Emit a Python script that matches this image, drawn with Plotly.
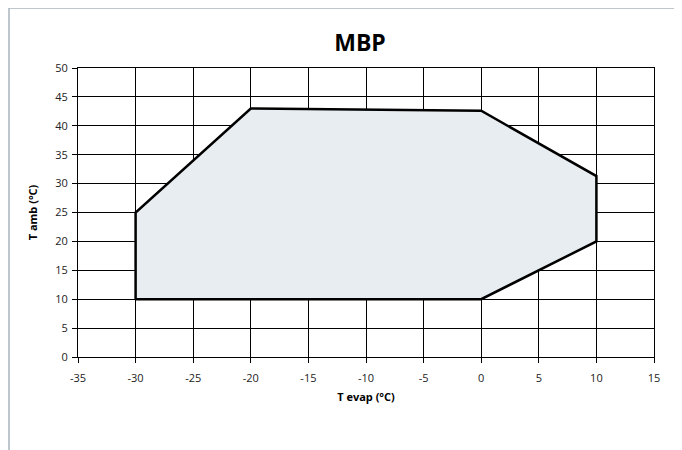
import plotly.graph_objects as go

t_evap = [-30, -30, -20, 0, 10, 10, 0, -30]
t_amb = [10, 25, 43, 42.6, 31.3, 20, 10, 10]

x_ticks = [-35, -30, -25, -20, -15, -10, -5, 0, 5, 10, 15]
y_ticks = [0, 5, 10, 15, 20, 25, 30, 35, 40, 45, 50]

W, H = 682, 450
OFF = 8  # default page body margin
L, T = 78 - OFF, 68 - OFF
R = W - (654 - OFF)
B = H - (357 - OFF)
pw, ph = W - L - R, H - T - B

fig = go.Figure()
fig.add_trace(go.Scatter(
    x=t_evap, y=t_amb, mode="lines", fill="toself",
    fillcolor="#e8edf1", line=dict(color="black", width=2.5),
    hoverinfo="skip", showlegend=False))

font = "Open Sans, DejaVu Sans, sans-serif"
fig.update_layout(
    width=W, height=H,
    margin=dict(l=L, r=R, t=T, b=B),
    paper_bgcolor="white", plot_bgcolor="white",
    title=dict(text="<b>MBP</b>", x=(360 - OFF) / W, xanchor="center",
               y=1 - (43 - OFF) / H, yanchor="middle",
               font=dict(family=font, size=23, color="black")),
    xaxis=dict(range=[-35, 15], tickvals=x_ticks, ticktext=[str(v) for v in x_ticks],
               showgrid=True, gridcolor="black", gridwidth=1,
               showline=True, linecolor="black", linewidth=1, mirror=True,
               ticks="outside", ticklen=5, tickcolor="black", zeroline=False,
               ticklabelstandoff=6,
               tickfont=dict(family=font, size=11, color="#222"),
               title=dict(text="<b>T evap (°C)</b>", standoff=9,
                          font=dict(family=font, size=11, color="black"))),
    yaxis=dict(range=[0, 50], tickvals=y_ticks, ticktext=[str(v) for v in y_ticks],
               showgrid=True, gridcolor="black", gridwidth=1,
               showline=True, linecolor="black", linewidth=1, mirror=True,
               ticks="outside", ticklen=5, tickcolor="black", zeroline=False,
               ticklabelstandoff=2,
               tickfont=dict(family=font, size=11, color="#222"),
               title=dict(text="<b>T amb (°C)</b>", standoff=15,
                          font=dict(family=font, size=11, color="black"))),
    shapes=[
        dict(type="line", xref="paper", yref="paper",
             x0=(1 - L) / pw, x1=(1 - L) / pw, y0=(H - B) / ph, y1=(H - B - 460) / ph,
             line=dict(color="#aab4be", width=1.5)),
        dict(type="line", xref="paper", yref="paper",
             x0=(1 - L) / pw, x1=(W + 10 - L) / pw, y0=(H - B) / ph, y1=(H - B) / ph,
             line=dict(color="#aab4be", width=1.5)),
    ],
)

fig.write_html("out.html")
